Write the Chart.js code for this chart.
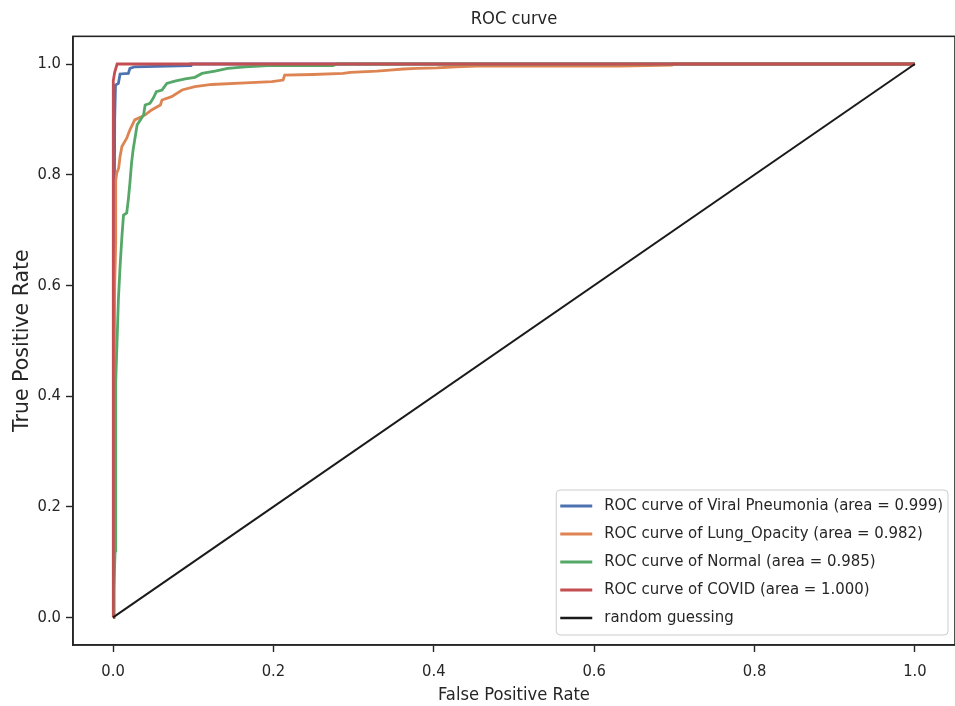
<!DOCTYPE html>
<html><head><meta charset="utf-8">
<script src="https://cdn.jsdelivr.net/npm/chart.js@4/dist/chart.umd.min.js"></script>
<style>html,body{margin:0;padding:0;background:#fff}#wrap{width:955px;height:706px}</style>
</head><body><div id="wrap"><canvas id="c" width="955" height="706"></canvas></div>
<script>
// ---------- data ----------
const seriesLabels = [
  'ROC curve of Viral Pneumonia (area = 0.999)',
  'ROC curve of Lung_Opacity (area = 0.982)',
  'ROC curve of Normal (area = 0.985)',
  'ROC curve of COVID (area = 1.000)',
  'random guessing'
];
const seriesColors = ['#4c72b0', '#dd8452', '#55a868', '#c44e52', '#1a1a1a'];

const viralFpr = [0, 0.001, 0.002, 0.003, 0.0066, 0.0087, 0.019, 0.021, 0.027, 0.096, 0.097, 1];
const viralTpr = [0, 0.5, 0.9, 0.962, 0.965, 0.982, 0.983, 0.992, 0.995, 0.997, 1.0, 1];

const lungFpr = [0, 0.0005, 0.002, 0.0033, 0.0033, 0.0046, 0.007, 0.0087, 0.011, 0.017, 0.021, 0.027, 0.040, 0.048, 0.059, 0.061, 0.073, 0.086, 0.102, 0.123, 0.165, 0.198, 0.212, 0.214, 0.249, 0.287, 0.296, 0.329, 0.345, 0.362, 0.379, 0.404, 0.428, 0.453, 0.632, 0.697, 0.70, 1];
const lungTpr = [0, 0.3, 0.6, 0.68, 0.79, 0.803, 0.812, 0.833, 0.851, 0.866, 0.881, 0.899, 0.908, 0.917, 0.926, 0.935, 0.941, 0.953, 0.959, 0.963, 0.966, 0.968, 0.971, 0.980, 0.981, 0.983, 0.985, 0.987, 0.989, 0.991, 0.992, 0.993, 0.995, 0.996, 0.996, 0.998, 1.0, 1];

const normalFpr = [0, 0.001, 0.0025, 0.003, 0.0035, 0.0046, 0.0066, 0.0087, 0.011, 0.013, 0.017, 0.019, 0.021, 0.023, 0.025, 0.030, 0.038, 0.040, 0.046, 0.050, 0.054, 0.061, 0.067, 0.077, 0.090, 0.102, 0.111, 0.127, 0.143, 0.165, 0.193, 0.274, 0.28, 1];
const normalTpr = [0, 0.05, 0.12, 0.3, 0.424, 0.484, 0.574, 0.634, 0.688, 0.727, 0.731, 0.755, 0.785, 0.821, 0.845, 0.890, 0.908, 0.926, 0.929, 0.938, 0.950, 0.953, 0.965, 0.969, 0.973, 0.976, 0.983, 0.987, 0.992, 0.995, 0.997, 0.997, 1.0, 1];

const covidFpr = [0, 0, 0.0005, 0.002, 0.005, 1];
const covidTpr = [0, 0.2, 0.97, 0.985, 1.0, 1];

const randomFpr = [0, 1];
const randomTpr = [0, 1];

const xTickValues = [0, 0.2, 0.4, 0.6, 0.8, 1.0];
const yTickValues = [0, 0.2, 0.4, 0.6, 0.8, 1.0];

// ---------- fonts ----------
function fontAvailable(name) {
  const c = document.createElement('canvas').getContext('2d');
  const t = 'ROC curve of Viral Pneumonia 0123456789';
  c.font = '20px monospace';
  const a = c.measureText(t).width;
  c.font = '20px "' + name + '", monospace';
  return Math.abs(c.measureText(t).width - a) > 0.5;
}
let FAMILY, SZ;
if (fontAvailable('DejaVu Sans Condensed')) {
  FAMILY = '"DejaVu Sans Condensed", "DejaVu Sans", sans-serif';
  SZ = {tick: 16.4, legend: 16.6, label: 18.2, title: 18.2};
} else if (fontAvailable('Liberation Sans Narrow')) {
  FAMILY = '"Liberation Sans Narrow", sans-serif';
  SZ = {tick: 19, legend: 20, label: 21, title: 21};
} else {
  FAMILY = '"DejaVu Sans", sans-serif';
  SZ = {tick: 14.5, legend: 15, label: 16, title: 16};
}
const VFAMILY = '"DejaVu Sans", sans-serif';
const VSIZE = 20.5;
const INK = '#262626';

function pts(xs, ys) { return xs.map((x, i) => ({x: x, y: ys[i]})); }
const allFpr = [viralFpr, lungFpr, normalFpr, covidFpr, randomFpr];
const allTpr = [viralTpr, lungTpr, normalTpr, covidTpr, randomTpr];

const datasets = seriesLabels.map((lab, i) => ({
  label: lab,
  data: pts(allFpr[i], allTpr[i]),
  borderColor: seriesColors[i],
  backgroundColor: seriesColors[i],
  borderWidth: i === 4 ? 2 : 2.8,
  pointRadius: 0,
  tension: 0,
  fill: false,
  order: 5 - i
}));

const framePlugin = {
  id: 'frame',
  afterDatasetsDraw(chart) {
    const a = chart.chartArea, ctx = chart.ctx;
    ctx.save();
    ctx.strokeStyle = INK;
    ctx.lineWidth = 1.6;
    ctx.strokeRect(a.left, a.top, a.right - a.left, a.bottom - a.top);
    ctx.restore();
  }
};

const legendPlugin = {
  id: 'boxLegend',
  afterDraw(chart) {
    const a = chart.chartArea, ctx = chart.ctx;
    ctx.save();
    ctx.font = SZ.legend + 'px ' + FAMILY;
    const labels = chart.data.datasets.map(d => d.label);
    const maxW = Math.max(...labels.map(l => ctx.measureText(l).width));
    const rowH = 28, padL = 4, handle = 32, gap = 12, padR = 5;
    const w = padL + handle + gap + maxW + padR;
    const h = labels.length * rowH + 5;
    const right = a.right - 7, bottom = a.bottom - 10;
    const left = right - w, top = bottom - h;
    ctx.beginPath();
    if (ctx.roundRect) ctx.roundRect(left, top, w, h, 4); else ctx.rect(left, top, w, h);
    ctx.fillStyle = 'rgba(255,255,255,0.8)';
    ctx.fill();
    ctx.strokeStyle = '#cccccc';
    ctx.lineWidth = 1;
    ctx.stroke();
    chart.data.datasets.forEach((d, i) => {
      const cy = top + 16 + i * rowH;
      ctx.beginPath();
      ctx.moveTo(left + padL, cy);
      ctx.lineTo(left + padL + handle, cy);
      ctx.strokeStyle = d.borderColor;
      ctx.lineWidth = i === 4 ? 2.4 : 3;
      ctx.stroke();
      ctx.fillStyle = INK;
      ctx.textBaseline = 'middle';
      ctx.textAlign = 'left';
      ctx.fillText(d.label, left + padL + handle + gap, cy);
    });
    ctx.restore();
  }
};

function axis(title, ticksArr, fitProp, fitVal, titleFont, titlePad, tickPad) {
  return {
    type: 'linear',
    min: -0.05, max: 1.05,
    afterBuildTicks(scale) { scale.ticks = ticksArr.map(v => ({value: v})); },
    afterFit(scale) { scale[fitProp] = fitVal; },
    ticks: {
      color: INK,
      font: {family: FAMILY, size: SZ.tick},
      padding: tickPad,
      callback: v => Number(v).toFixed(1),
      autoSkip: false,
      maxRotation: 0
    },
    grid: {drawOnChartArea: false, drawTicks: true, tickLength: 7, tickWidth: 1.4, tickColor: INK},
    border: {display: true, color: INK, width: 1.6},
    title: {display: true, text: title, color: INK, font: titleFont, padding: titlePad}
  };
}

new Chart(document.getElementById('c'), {
  type: 'line',
  data: {datasets: datasets},
  options: {
    responsive: false,
    animation: false,
    devicePixelRatio: 1,
    layout: {padding: {left: 0, right: 0, top: 0, bottom: 0}},
    plugins: {
      legend: {display: false},
      tooltip: {enabled: false},
      title: {display: true, fullSize: false, text: 'ROC curve', color: INK, font: {family: FAMILY, size: SZ.title, weight: 'normal'}, padding: {top: 8.5, bottom: 6}}
    },
    scales: {
      x: axis('False Positive Rate', xTickValues, 'height', 61, {family: FAMILY, size: SZ.label}, {top: 3, bottom: 0}, 10),
      y: axis('True Positive Rate', yTickValues, 'width', 73, {family: VFAMILY, size: VSIZE}, {top: 10, bottom: 0}, 5)
    }
  },
  plugins: [framePlugin, legendPlugin]
});
</script>
</body></html>
